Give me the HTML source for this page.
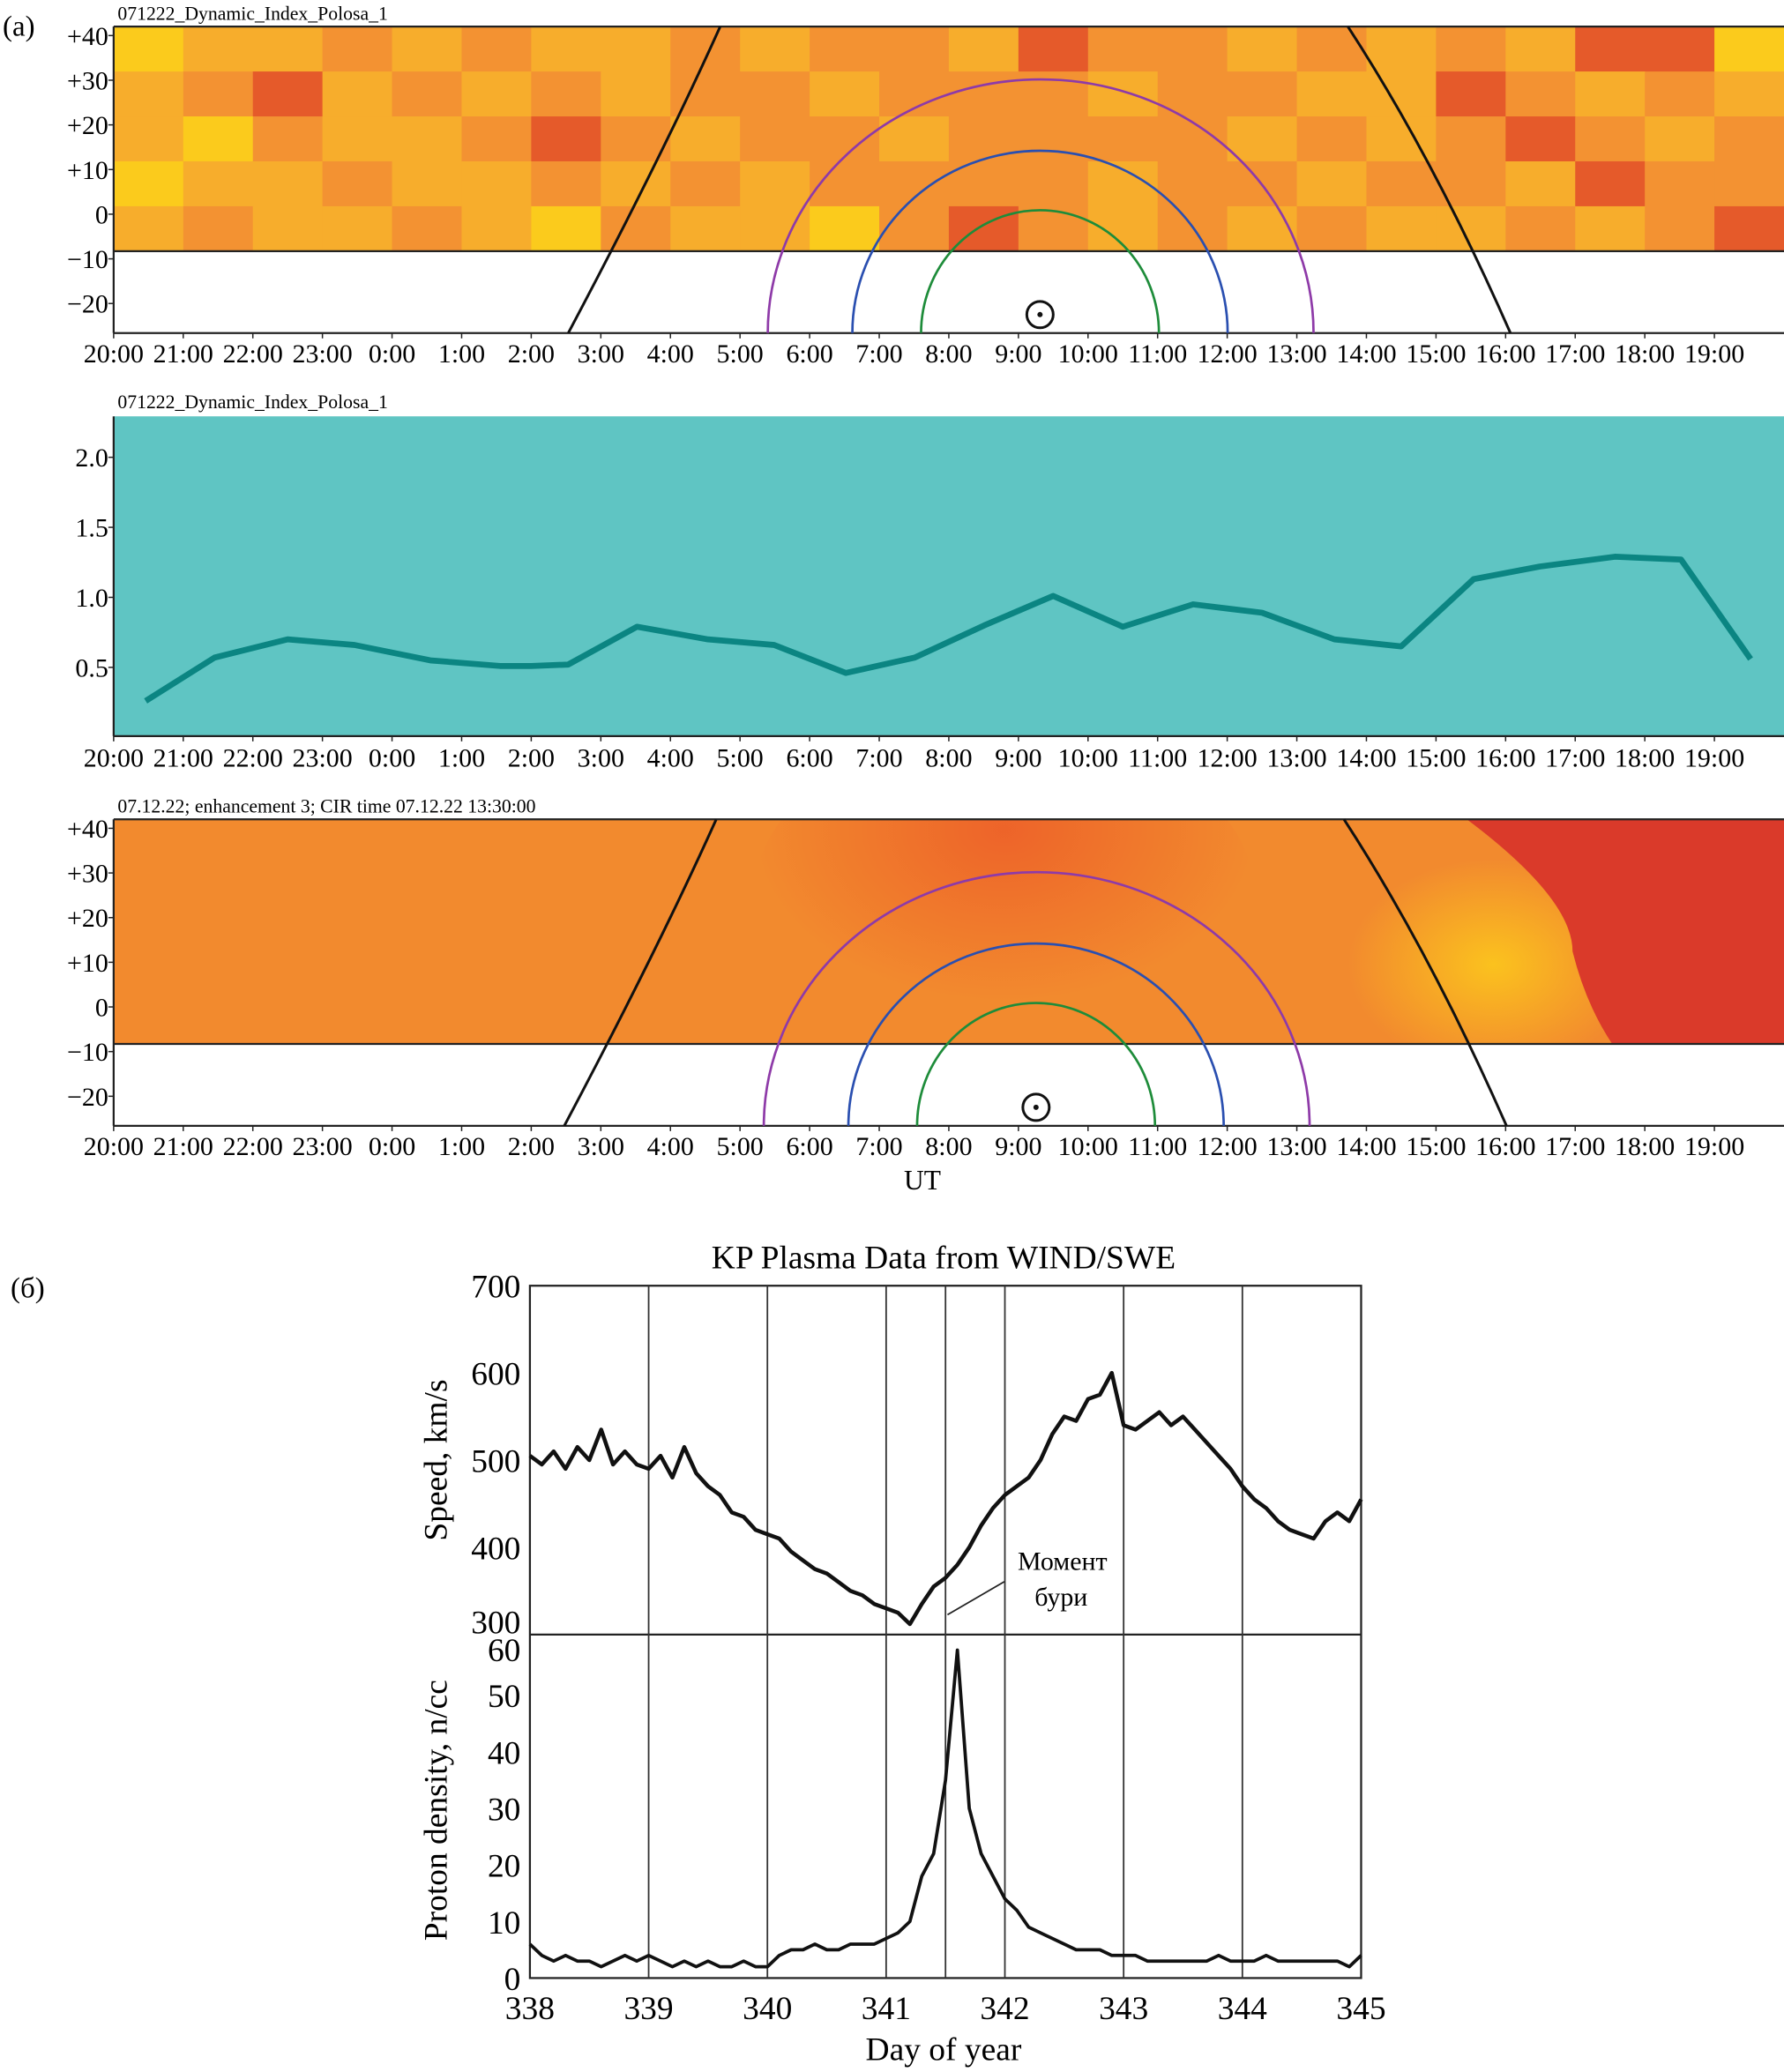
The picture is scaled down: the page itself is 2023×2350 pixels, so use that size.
<!DOCTYPE html>
<html><head><meta charset="utf-8"><style>
html,body{margin:0;padding:0;background:#fff;}
svg{display:block;font-family:"Liberation Serif",serif;}
</style></head><body>
<svg id="fig" width="2023" height="2350" viewBox="0 0 1350 1568" xmlns="http://www.w3.org/2000/svg">
<defs>
<radialGradient id="hot" cx="0.5" cy="0.3" r="0.5"><stop offset="0" stop-color="#ec5a28" stop-opacity="0.8"/><stop offset="1" stop-color="#ec5a28" stop-opacity="0"/></radialGradient>
<radialGradient id="yel" cx="0.5" cy="0.5" r="0.5"><stop offset="0" stop-color="#fbc21e" stop-opacity="1"/><stop offset="1" stop-color="#fbc21e" stop-opacity="0"/></radialGradient>
<clipPath id="modelClip"><rect x="86" y="620" width="1264" height="170"/></clipPath>
</defs>
<g id="g"></g>
</svg>
<script>
// ---- data ----
const hourLabels = ["20:00","21:00","22:00","23:00","0:00","1:00","2:00","3:00","4:00","5:00","6:00","7:00","8:00","9:00","10:00","11:00","12:00","13:00","14:00","15:00","16:00","17:00","18:00","19:00"];
const latTicks = [40,30,20,10,0,-10,-20];
const latTickLabels = ["+40","+30","+20","+10","0","\u221210","\u221220"];
const heatRows = [
 [0,1,1,2,1,2,1,1,2,1,2,2,1,3,2,2,1,2,1,2,1,3,3,0],
 [1,2,3,1,2,1,2,1,2,2,1,2,2,2,1,2,2,1,1,3,2,1,2,1],
 [1,0,2,1,1,2,3,2,1,2,2,1,2,2,2,2,1,2,1,2,3,2,1,2],
 [0,1,1,2,1,1,2,1,2,1,2,2,2,2,1,2,2,1,2,2,1,3,2,2],
 [1,2,1,1,2,1,0,2,1,1,0,2,3,2,1,2,1,2,1,1,2,1,2,3]
];
const idxHours = [0.46,1.45,2.5,3.46,4.55,5.55,6.0,6.53,7.52,8.54,9.49,10.52,11.51,12.51,13.5,14.5,15.51,16.5,17.54,18.5,19.54,20.49,21.57,22.52,23.52];
const idxValues = [0.26,0.57,0.70,0.66,0.55,0.51,0.51,0.52,0.79,0.70,0.66,0.46,0.57,0.80,1.01,0.79,0.95,0.89,0.70,0.65,1.13,1.22,1.29,1.27,0.56];
const idxTicks = [2.0,1.5,1.0,0.5];
const dayTicks = [338,339,340,341,342,343,344,345];
const markerDays = [339,340,341,341.5,342,343,344];
const speedTicks = [700,600,500,400,300];
const densTicks = [60,50,40,30,20,10,0];
const seriesStart = 338, seriesStep = 0.1;
const speedVals = [505,495,510,490,515,500,535,495,510,495,
 490,505,480,515,485,470,460,440,435,420,
 415,410,395,385,375,370,360,350,345,335,
 330,325,312,335,355,365,380,400,425,445,
 460,470,480,500,530,550,545,570,575,600,
 540,535,545,555,540,550,535,520,505,490,
 470,455,445,430,420,415,410,430,440,430,455];
const densVals = [6,4,3,4,3,3,2,3,4,3,
 4,3,2,3,2,3,2,2,3,2,
 2,4,5,5,6,5,5,6,6,6,
 7,8,10,18,22,35,58,30,22,18,
 14,12,9,8,7,6,5,5,5,4,
 4,4,3,3,3,3,3,3,4,3,
 3,3,4,3,3,3,3,3,3,2,4];

const NS="http://www.w3.org/2000/svg";
const G=document.getElementById('g');
function el(t,a,p){const e=document.createElementNS(NS,t);for(const k in a)e.setAttribute(k,a[k]);(p||G).appendChild(e);return e;}
function txt(s,a,p){const e=el('text',a,p);e.textContent=s;return e;}

const X0=86,X1=1350,PH=(X1-X0)/24;
const hx=h=>X0+h*PH;
const heatColors=["#fbcb1c","#f7ad2c","#f39232","#e55a2a"];

function latPanel(off,title,isHeat){
  const ly=v=>off+162-v*3.38;
  const gp=el('g',{});
  
  
  const top=off+20,bot=off+190,axB=off+252;
  if(isHeat){
    const rows=heatRows.length, cols=heatRows[0].length;
    const ch=(bot-top)/rows, cw=(X1-X0)/cols;
    heatRows.forEach((r,i)=>r.forEach((v,j)=>{
      const c=el('rect',{x:X0+j*cw,y:top+i*ch,width:cw+0.5,height:ch+0.5,fill:heatColors[v]},gp);
      
      
    }));
  } else {
    const cg=el('g',{'clip-path':'url(#modelClip)'},gp);
    const b=el('rect',{x:X0,y:top,width:X1-X0,height:bot-top,fill:"#f28a2e"},cg);
    
    el('ellipse',{cx:760,cy:top+60,rx:190,ry:130,fill:"url(#hot)"},cg);
    el('ellipse',{cx:1130,cy:top+110,rx:110,ry:80,fill:"url(#yel)"},cg);
    const r=el('path',{d:`M1110 ${top} Q1190 ${top+60} 1190 ${top+100} Q1200 ${top+140} 1220 ${bot} L${X1} ${bot} L${X1} ${top} Z`,fill:"#da3a2a"},cg);
    
  }
  el('line',{x1:X0,y1:top,x2:X1,y2:top,stroke:"#222","stroke-width":1.5},gp);
  el('line',{x1:X0,y1:bot,x2:X1,y2:bot,stroke:"#222","stroke-width":1.5},gp);
  el('line',{x1:X0,y1:top,x2:X0,y2:axB,stroke:"#222","stroke-width":1.5},gp);
  el('line',{x1:X0,y1:axB,x2:X1,y2:axB,stroke:"#222","stroke-width":1.5},gp);
  const t=txt(title,{x:X0+3,y:off+15,'font-size':14.5},gp);
  
  latTicks.forEach((v,i)=>{
    el('line',{x1:X0-4,y1:ly(v),x2:X0,y2:ly(v),stroke:"#222"},gp);
    const l=txt(latTickLabels[i],{x:X0-4,y:ly(v)+7,'font-size':20,'text-anchor':'end'},gp);
    
  });
  hourLabels.forEach((s,i)=>{
    el('line',{x1:hx(i),y1:axB,x2:hx(i),y2:axB+4,stroke:"#222"},gp);
    const l=txt(s,{x:hx(i),y:axB+22,'font-size':20,'text-anchor':'middle'},gp);
    
  });
  const d=isHeat?0:-3;
  const t1=el('path',{d:`M${430+d} ${axB} Q${500+d} ${off+120} ${545+d} ${top}`,stroke:"#111",fill:"none","stroke-width":2},gp);
  
  const t2=el('path',{d:`M${1030+d-10} ${top} Q${1085+d} ${off+120} ${1147+d-4} ${axB}`,stroke:"#111",fill:"none","stroke-width":2},gp);
  
  [[581,994,60,"#8e3aa8","arc-purple"],[645,929,114,"#2a4fb0","arc-blue"],[697,877,159,"#1e8c3a","arc-green"]].forEach(a=>{
    const cx=(a[0]+a[1])/2+d, rx=(a[1]-a[0])/2, ry=252-a[2];
    const p=el('path',{d:`M${cx-rx} ${axB} A${rx} ${ry} 0 0 1 ${cx+rx} ${axB}`,stroke:a[3],fill:"none","stroke-width":1.8},gp);
    
  });
  const s=el('circle',{cx:787+d,cy:off+238,r:10,fill:"none",stroke:"#111","stroke-width":2},gp);
  
  el('circle',{cx:787+d,cy:off+238,r:2,fill:"#111"},gp);
}
latPanel(0,"071222_Dynamic_Index_Polosa_1",true);
latPanel(600,"07.12.22; enhancement 3; CIR time 07.12.22 13:30:00",false);

// panel 2
(function(){
  const gp=el('g',{});
  
  const iy=v=>452-(v-1)*106;
  const bg=el('rect',{x:X0,y:315,width:X1-X0,height:242,fill:"#5fc5c3"},gp);
  
  const t=txt("071222_Dynamic_Index_Polosa_1",{x:X0+3,y:309,'font-size':14.5},gp);
  
  el('line',{x1:X0,y1:315,x2:X0,y2:557,stroke:"#222","stroke-width":1.5},gp);
  el('line',{x1:X0,y1:557,x2:X1,y2:557,stroke:"#222","stroke-width":1.5},gp);
  idxTicks.forEach(v=>{
    el('line',{x1:X0-4,y1:iy(v),x2:X0,y2:iy(v),stroke:"#222"},gp);
    const l=txt(v.toFixed(1),{x:X0-4,y:iy(v)+7,'font-size':20,'text-anchor':'end'},gp);
    
  });
  hourLabels.forEach((s,i)=>{
    el('line',{x1:hx(i),y1:557,x2:hx(i),y2:561,stroke:"#222"},gp);
    const l=txt(s,{x:hx(i),y:580,'font-size':20,'text-anchor':'middle'},gp);
    
  });
  const pts=idxHours.map((h,i)=>hx(h)+","+iy(idxValues[i])).join(" ");
  const pl=el('polyline',{points:pts,fill:"none",stroke:"#0b8582","stroke-width":4.5,"stroke-linejoin":"round"},gp);
  
})();
const ut=txt("UT",{x:698,y:900,'font-size':21,'text-anchor':'middle'});

const la=txt("(a)",{x:2,y:27,'font-size':22});

const lb=txt("(б)",{x:8,y:982,'font-size':22});


// panel b
(function(){
  const gp=el('g',{});
  
  const L=401,R=1030,T=973,M=1237,B=1497;
  const dx=d=>L+(d-338)*(R-L)/7;
  const sy=v=>M-(v-300)*0.66;
  const dy=v=>B-v*4.28;
  const tt=txt("KP Plasma Data from WIND/SWE",{x:714,y:960,'font-size':25,'text-anchor':'middle'},gp);
  
  el('rect',{x:L,y:T,width:R-L,height:B-T,fill:"none",stroke:"#222","stroke-width":1.5},gp);
  el('line',{x1:L,y1:M,x2:R,y2:M,stroke:"#222","stroke-width":1.5},gp);
  markerDays.forEach(d=>{
    const l=el('line',{x1:dx(d),y1:T,x2:dx(d),y2:B,stroke:"#333","stroke-width":1.2},gp);
    
  });
  dayTicks.forEach(d=>{
    const l=txt(String(d),{x:dx(d),y:1528,'font-size':25,'text-anchor':'middle'},gp);
    
  });
  speedTicks.forEach(v=>{
    const y=v===300?1236:sy(v)+9;
    const l=txt(String(v),{x:L-7,y:y,'font-size':25,'text-anchor':'end'},gp);
    
  });
  densTicks.forEach(v=>{
    const y=v===60?1257:dy(v)+9;
    const l=txt(String(v),{x:L-7,y:y,'font-size':25,'text-anchor':'end'},gp);
    
  });
  const s=speedVals.map((v,i)=>dx(seriesStart+i*seriesStep)+","+sy(v)).join(" ");
  const sp=el('polyline',{points:s,fill:"none",stroke:"#111","stroke-width":3,"stroke-linejoin":"round"},gp);
  
  const dd=densVals.map((v,i)=>dx(seriesStart+i*seriesStep)+","+dy(v)).join(" ");
  const dp=el('polyline',{points:dd,fill:"none",stroke:"#111","stroke-width":2.5,"stroke-linejoin":"round"},gp);
  
  const a=txt("Speed, km/s",{x:0,y:0,'font-size':25,'text-anchor':'middle',transform:"translate(338,1105) rotate(-90)"},gp);
  
  const b=txt("Proton density, n/cc",{x:0,y:0,'font-size':25,'text-anchor':'middle',transform:"translate(338,1370) rotate(-90)"},gp);
  
  const c=txt("Day of year",{x:714,y:1559,'font-size':25,'text-anchor':'middle'},gp);
  
  const n1=txt("Момент",{x:804,y:1188,'font-size':20,'text-anchor':'middle'},gp);
  
  txt("бури",{x:803,y:1215,'font-size':20,'text-anchor':'middle'},gp);
  el('line',{x1:717,y1:1222,x2:760,y2:1197,stroke:"#222","stroke-width":1.2},gp);
})();
</script>
</body></html>
